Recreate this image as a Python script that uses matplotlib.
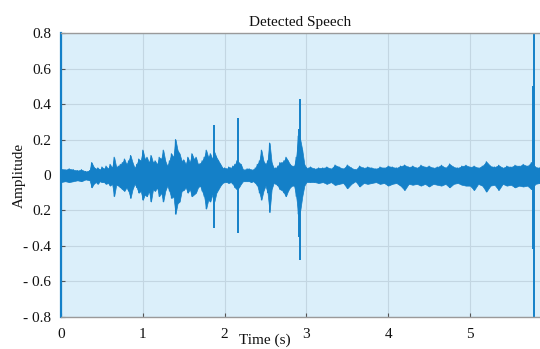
import numpy as np
import matplotlib
matplotlib.use("Agg")
import matplotlib.pyplot as plt

# ---- data ----
t_env = [0.000, 0.050, 0.100, 0.150, 0.200, 0.250, 0.300,
         0.350, 0.375, 0.400, 0.425, 0.450, 0.475, 0.500, 0.525, 0.550, 0.575,
         0.600, 0.625, 0.650, 0.675, 0.700, 0.725, 0.750, 0.775, 0.800, 0.825,
         0.850, 0.875, 0.900, 0.925, 0.950, 0.975, 1.000, 1.025, 1.050, 1.075,
         1.100, 1.125, 1.150, 1.175, 1.200, 1.225, 1.250, 1.275, 1.300, 1.325,
         1.350, 1.375, 1.400, 1.425, 1.450, 1.475, 1.500, 1.525, 1.550, 1.575,
         1.600, 1.625, 1.650, 1.675, 1.700, 1.725, 1.750, 1.775, 1.800, 1.825,
         1.850, 1.875, 1.900, 1.925, 1.950, 1.975, 2.000, 2.025, 2.050, 2.075,
         2.100, 2.125, 2.150, 2.175, 2.200, 2.225, 2.250, 2.275, 2.300, 2.325,
         2.350, 2.375, 2.400, 2.425, 2.450, 2.475, 2.500, 2.525, 2.550, 2.575,
         2.600, 2.625, 2.650, 2.675, 2.700, 2.725, 2.750, 2.775, 2.800, 2.825,
         2.850, 2.875, 2.900, 2.925, 2.950, 2.975, 3.000,
         3.05, 3.10, 3.15, 3.20, 3.25, 3.30, 3.35, 3.40, 3.45,
         3.50, 3.55, 3.60, 3.65, 3.70, 3.75, 3.80, 3.85, 3.90, 3.95,
         4.00, 4.05, 4.10, 4.15, 4.20, 4.25, 4.30, 4.35, 4.40, 4.45,
         4.50, 4.55, 4.60, 4.65, 4.70, 4.75, 4.80, 4.85, 4.90, 4.95,
         5.00, 5.05, 5.10, 5.15, 5.20, 5.25, 5.30, 5.35, 5.40, 5.45,
         5.50, 5.55, 5.60, 5.65, 5.70, 5.75, 5.80, 5.85]
env_upper = [0.035, 0.030, 0.035, 0.030, 0.025, 0.030, 0.020,
             0.025, 0.070, 0.045, 0.035, 0.040, 0.030, 0.045, 0.035, 0.050, 0.035,
             0.060, 0.040, 0.100, 0.045, 0.050, 0.060, 0.070, 0.090, 0.060, 0.080,
             0.110, 0.070, 0.040, 0.060, 0.090, 0.080, 0.140, 0.090, 0.100, 0.070,
             0.110, 0.070, 0.080, 0.060, 0.100, 0.090, 0.140, 0.080, 0.050, 0.080,
             0.120, 0.100, 0.200, 0.140, 0.120, 0.080, 0.085, 0.060, 0.100, 0.070,
             0.120, 0.090, 0.100, 0.060, 0.065, 0.080, 0.100, 0.140, 0.100, 0.120,
             0.090, 0.130, 0.100, 0.080, 0.060, 0.040, 0.040, 0.035, 0.045, 0.040,
             0.050, 0.060, 0.080, 0.070, 0.060, 0.030, 0.030, 0.035, 0.035, 0.030,
             0.030, 0.040, 0.060, 0.080, 0.140, 0.080, 0.060, 0.080, 0.180, 0.070,
             0.040, 0.040, 0.050, 0.070, 0.070, 0.080, 0.100, 0.080, 0.060, 0.050,
             0.050, 0.100, 0.220, 0.200, 0.140, 0.060, 0.040,
             0.045, 0.035, 0.040, 0.040, 0.045, 0.035, 0.056, 0.045, 0.035,
             0.056, 0.040, 0.030, 0.050, 0.040, 0.045, 0.040, 0.035, 0.045, 0.040,
             0.050, 0.045, 0.040, 0.050, 0.056, 0.045, 0.050, 0.040, 0.055, 0.045,
             0.050, 0.040, 0.045, 0.055, 0.040, 0.062, 0.045, 0.040, 0.050, 0.055,
             0.045, 0.050, 0.040, 0.050, 0.075, 0.050, 0.045, 0.055, 0.040, 0.050,
             0.045, 0.055, 0.050, 0.060, 0.050, 0.070, 0.045, 0.040]
env_lower = [-0.040, -0.035, -0.040, -0.035, -0.030, -0.035, -0.025,
             -0.030, -0.070, -0.050, -0.040, -0.050, -0.035, -0.040, -0.040, -0.050, -0.045,
             -0.060, -0.050, -0.120, -0.055, -0.060, -0.070, -0.080, -0.090, -0.070, -0.090,
             -0.130, -0.080, -0.050, -0.070, -0.100, -0.090, -0.140, -0.110, -0.120, -0.090,
             -0.150, -0.080, -0.090, -0.070, -0.120, -0.100, -0.150, -0.090, -0.060, -0.090,
             -0.130, -0.120, -0.220, -0.160, -0.150, -0.090, -0.085, -0.070, -0.100, -0.080,
             -0.120, -0.110, -0.100, -0.070, -0.060, -0.090, -0.120, -0.190, -0.140, -0.150,
             -0.110, -0.150, -0.100, -0.080, -0.060, -0.045, -0.040, -0.040, -0.045, -0.040,
             -0.050, -0.070, -0.080, -0.070, -0.050, -0.035, -0.035, -0.035, -0.035, -0.040,
             -0.035, -0.045, -0.060, -0.100, -0.140, -0.090, -0.060, -0.100, -0.210, -0.080,
             -0.045, -0.050, -0.060, -0.080, -0.085, -0.100, -0.120, -0.090, -0.070, -0.060,
             -0.060, -0.120, -0.220, -0.200, -0.120, -0.060, -0.040,
             -0.040, -0.040, -0.045, -0.040, -0.050, -0.040, -0.056, -0.050, -0.045,
             -0.075, -0.050, -0.035, -0.065, -0.045, -0.050, -0.045, -0.040, -0.050, -0.045,
             -0.060, -0.050, -0.045, -0.060, -0.085, -0.050, -0.055, -0.050, -0.060, -0.050,
             -0.065, -0.050, -0.055, -0.060, -0.050, -0.070, -0.050, -0.045, -0.055, -0.060,
             -0.060, -0.085, -0.050, -0.060, -0.094, -0.060, -0.055, -0.085, -0.050, -0.060,
             -0.055, -0.070, -0.060, -0.065, -0.060, -0.080, -0.050, -0.045]

# isolated transients (time, peak, trough)
t_spike = [1.87, 2.16, 2.905, 2.92, 5.775, 5.78]
spike_hi = [0.28, 0.32, 0.26, 0.43, 0.50, 0.85]
spike_lo = [-0.30, -0.33, -0.35, -0.48, -0.42, -0.85]

x_ticks = [0, 1, 2, 3, 4, 5]
x_ticklabels = ["0", "1", "2", "3", "4", "5"]
y_ticks = [-0.8, -0.6, -0.4, -0.2, 0, 0.2, 0.4, 0.6, 0.8]
y_ticklabels = ["- 0.8", "- 0.6", "- 0.4", "0.2", "0", "0.2", "0.4", "0.6", "0.8"]

title = "Detected Speech"
xlabel = "Time (s)"
ylabel = "Amplitude"

# ---- style ----
plt.rcParams['font.family'] = ['Liberation Serif', 'DejaVu Serif']
wave_color = '#1480c8'
bg_color = '#dbeffa'

fig = plt.figure(figsize=(5.40, 3.49), dpi=100)
ax = fig.add_axes([61/540, 1 - 316.7/349, 1 - 61/540, (316.7 - 33.3)/349])
ax.set_facecolor(bg_color)

t = np.array(t_env)
up = np.array(env_upper)
lo = np.array(env_lower)
ax.fill_between(t, lo, up, color=wave_color, lw=0.5, edgecolor=wave_color)
# jagged waveform texture: zigzag between the envelope points
zx = np.repeat(t, 2)
zy = np.ravel(np.column_stack([up, lo]))
ax.plot(zx, zy, color=wave_color, lw=0.8)
ax.vlines(t_spike, spike_lo, spike_hi, color=wave_color, lw=1.4)

ax.set_xlim(0, 479/81.8)
ax.set_ylim(-0.8, 0.8)
ax.set_xticks(x_ticks)
ax.set_xticklabels(x_ticklabels)
ax.set_yticks(y_ticks)
ax.set_yticklabels(y_ticklabels)
ax.tick_params(direction='in', length=3, width=0.8, color='#555555',
               labelsize=11, labelcolor='#111111')
ax.tick_params(axis='x', pad=8)
ax.tick_params(axis='y', pad=7)
ax.grid(True, color='#c3d6e2', lw=0.8)
ax.set_axisbelow(True)

for s in ['top', 'bottom']:
    ax.spines[s].set_color('#9a9a9a')
    ax.spines[s].set_linewidth(1.0)
ax.spines['right'].set_visible(False)
ax.spines['left'].set_color(wave_color)
ax.spines['left'].set_linewidth(1.6)

ax.set_title(title, fontsize=11, color='#111111', pad=5)
ax.set_xlabel(xlabel, fontsize=11, color='#111111')
ax.xaxis.set_label_coords((265 - 61) / 479, -(334 - 316.7) / 283.4)
ax.set_ylabel(ylabel, fontsize=11, color='#111111')
ax.yaxis.set_label_coords(-(61 - 26) / 479, 0.5)

fig.savefig('out.png', dpi=100)
